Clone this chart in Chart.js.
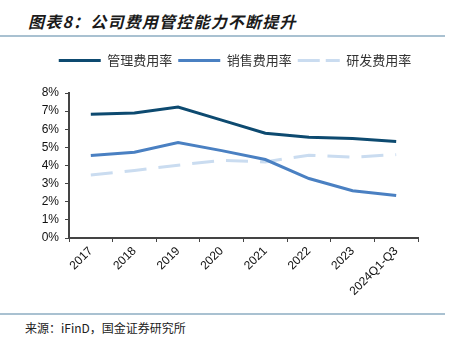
<!DOCTYPE html>
<html>
<head>
<meta charset="utf-8">
<script src="https://cdn.jsdelivr.net/npm/chart.js@4.4.1/dist/chart.umd.min.js"></script>
<style>
  body { margin: 0; background: #fff; width: 462px; height: 350px; position: relative; overflow: hidden; }
  #title { position: absolute; left: 28px; top: 9px; font: italic bold 16px "Noto Sans CJK SC", sans-serif; letter-spacing: 1.2px; color: #1a1a1a; }
  .rule { position: absolute; left: 0; width: 445px; height: 2px; background: #a9c1d1; }
  #source { position: absolute; left: 25px; top: 319px; font: 12px "Noto Sans CJK SC", sans-serif; color: #222; }
  #wrap { position: absolute; left: 0; top: 40px; width: 462px; height: 270px; }
</style>
</head>
<body>
<div id="title">图表8：公司费用管控能力不断提升</div>
<div class="rule" style="top:35px"></div>
<div id="wrap"><canvas id="chart"></canvas></div>
<div class="rule" style="top:313px"></div>
<div id="source">来源：iFinD，国金证券研究所</div>
<script>
let categories = ['2017', '2018', '2019', '2020', '2021', '2022', '2023', '2024Q1-Q3'];
let adminRate = [6.83, 6.9, 7.23, 6.5, 5.78, 5.56, 5.49, 5.33];
let salesRate = [4.55, 4.73, 5.27, 4.82, 4.33, 3.28, 2.61, 2.34];
let rdRate = [3.48, 3.73, 4.02, 4.28, 4.2, 4.57, 4.46, 4.6];

const ctx = document.getElementById('chart').getContext('2d');

const chartData = {
    labels: categories,
    datasets: [
        { label: '管理费用率', data: adminRate, borderColor: '#0d4a70', backgroundColor: '#0d4a70', borderWidth: 3 },
        { label: '销售费用率', data: salesRate, borderColor: '#4a80c2', backgroundColor: '#4a80c2', borderWidth: 3 },
        { label: '研发费用率', data: rdRate, borderColor: '#cadcf0', backgroundColor: '#cadcf0', borderWidth: 3, borderDash: [22, 12] }
    ]
};

// extra space under the legend, and shift it right a bit
const legendTweak = {
    id: 'legendTweak',
    beforeInit(chart) {
        const fit = chart.legend.fit;
        chart.legend.fit = function () {
            fit.bind(chart.legend)();
            this.height += 16;
        };
    },
    afterLayout(chart) {
        chart.legend.left = 52;
        chart.legend.right = 418;
    }
};

window.chart = new Chart(ctx, {
    type: 'line',
    data: chartData,
    plugins: [legendTweak],
    options: {
        responsive: true,
        maintainAspectRatio: false,
        animation: false,
        layout: { padding: { left: 0, right: 44, top: 8, bottom: 10 } },
        elements: { point: { radius: 0 }, line: { tension: 0 } },
        plugins: {
            tooltip: { enabled: false },
            legend: {
                position: 'top',
                labels: {
                    boxWidth: 42,
                    boxHeight: 0,
                    padding: 6,
                    color: '#333',
                    font: { family: '"Noto Sans CJK SC", sans-serif', size: 13 }
                }
            }
        },
        scales: {
            x: {
                offset: true,
                afterFit: function (scale) { scale.height = 62; },
                grid: { display: true, drawOnChartArea: false, drawTicks: true, tickLength: 4, color: '#444', offset: true },
                border: { color: '#444', width: 2 },
                ticks: { color: '#111', minRotation: 45, maxRotation: 45, autoSkip: false, padding: 2,
                         font: { family: '"Liberation Sans", Arial, sans-serif', size: 12 } }
            },
            y: {
                min: 0,
                max: 8,
                afterFit: function (scale) { scale.width = 69; },
                grid: { display: true, drawOnChartArea: false, drawTicks: true, tickLength: 4, color: '#444' },
                border: { color: '#444', width: 2 },
                ticks: { stepSize: 1, color: '#111', padding: 6,
                         callback: v => v + '%',
                         font: { family: '"Liberation Sans", Arial, sans-serif', size: 12 } }
            }
        }
    }
});
</script>
</body>
</html>
